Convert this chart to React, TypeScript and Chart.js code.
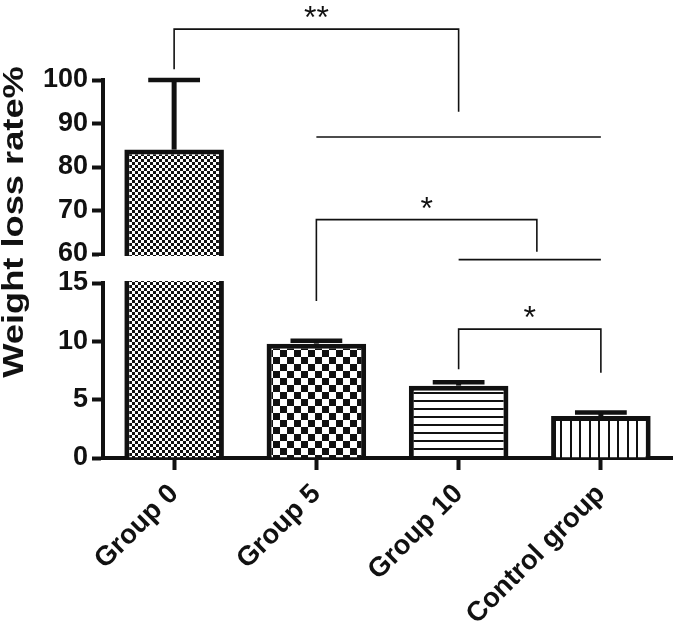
import { useEffect, useRef } from "react";
import { Chart, registerables, LinearScale } from "chart.js";

Chart.register(...registerables);

// ---- data ----
const categories = ["Group 0", "Group 5", "Group 10", "Control group"];
const means = [84, 9.8, 6.2, 3.6];
const sems = [16, 0.25, 0.3, 0.3];
const lowSegment = [0, 15];
const highSegment = [60, 100];
const yTicks = [0, 5, 10, 15, 60, 70, 80, 90, 100];
const yTitle = "Weight loss rate%";

// significance brackets (category index / value units)
const bracketFrom = [0, 1, 1, 2, 2];
const bracketTo = [2, 3, 2.55, 3, 3];
const bracketLevel = [111.7, 86.9, 67.9, 51.2, 11.05];
const bracketLeftEnd: (number | null)[] = [102.5, null, 13.45, null, 7.6];
const bracketRightEnd: (number | null)[] = [92.7, null, 60.5, null, 7.3];
const bracketLabel = ["**", "", "*", "", "*"];

// ---- style ----
const INK = "#111";
const LOW_FRAC = 175 / 378;
const GAP_FRAC = 29 / 378;
const HIGH_FRAC = 174 / 378;
const SANS = "'Liberation Sans', Arial, sans-serif";

class BrokenLinearScale extends LinearScale {
  static id = "brokenLinear";
  static defaults = LinearScale.defaults;
  getPixelForValue(value: any) {
    if (value === null || value === undefined || isNaN(value)) return NaN;
    const [l0, l1] = lowSegment;
    const [h0, h1] = highSegment;
    let d: number;
    if (value <= l1) d = ((value - l0) / (l1 - l0)) * LOW_FRAC;
    else if (value >= h0) d = LOW_FRAC + GAP_FRAC + ((value - h0) / (h1 - h0)) * HIGH_FRAC;
    else d = LOW_FRAC + ((value - l1) / (h0 - l1)) * GAP_FRAC;
    return (this as any).getPixelForDecimal(d);
  }
  getValueForPixel(pixel: number) {
    const d = (this as any).getDecimalForPixel(pixel);
    const [l0, l1] = lowSegment;
    const [h0, h1] = highSegment;
    if (d <= LOW_FRAC) return l0 + (d / LOW_FRAC) * (l1 - l0);
    if (d >= LOW_FRAC + GAP_FRAC) return h0 + ((d - LOW_FRAC - GAP_FRAC) / HIGH_FRAC) * (h1 - h0);
    return l1 + ((d - LOW_FRAC) / GAP_FRAC) * (h0 - l1);
  }
}
Chart.register(BrokenLinearScale as any);

function makePattern(kind: string): CanvasPattern | string {
  const c = document.createElement("canvas");
  const ctx = c.getContext("2d");
  if (!ctx) return "#888";
  let s = 6;
  if (kind === "coarse") s = 14;
  if (kind === "hlines") s = 8;
  if (kind === "vlines") s = 19;
  c.width = s;
  c.height = s;
  ctx.fillStyle = "#fff";
  ctx.fillRect(0, 0, s, s);
  ctx.fillStyle = INK;
  if (kind === "fine") {
    ctx.fillRect(0, 0, 3, 3);
    ctx.fillRect(3, 3, 3, 3);
  } else if (kind === "coarse") {
    ctx.fillRect(0, 0, 7, 7);
    ctx.fillRect(7, 7, 7, 7);
  } else if (kind === "hlines") {
    ctx.fillRect(0, 0, s, 2);
  } else if (kind === "vlines") {
    ctx.fillRect(0, 0, 2, s);
    ctx.fillRect(9, 0, 2, s);
  }
  return ctx.createPattern(c, "repeat") || "#888";
}

const overlayPlugin = {
  id: "brokenOverlay",
  afterDatasetsDraw(chart: any) {
    const { ctx, chartArea } = chart;
    const xs = chart.scales.x;
    const ys = chart.scales.y;
    ctx.save();
    // axis break gap
    const yHigh = ys.getPixelForValue(highSegment[0]);
    const yLow = ys.getPixelForValue(lowSegment[1]);
    ctx.fillStyle = "#fff";
    ctx.fillRect(chartArea.left - 4, yHigh + 2, chartArea.right - chartArea.left + 4, yLow - yHigh - 4);

    // error bars
    const meta = chart.getDatasetMeta(0);
    ctx.strokeStyle = INK;
    meta.data.forEach((bar: any, i: number) => {
      const top = ys.getPixelForValue(means[i]);
      const errTop = ys.getPixelForValue(means[i] + sems[i]);
      const half = bar.width * 0.26;
      ctx.lineWidth = 5;
      ctx.lineCap = "butt";
      ctx.beginPath();
      ctx.moveTo(bar.x, top);
      ctx.lineTo(bar.x, errTop);
      ctx.stroke();
      ctx.lineWidth = 4.5;
      ctx.beginPath();
      ctx.moveTo(bar.x - half, errTop);
      ctx.lineTo(bar.x + half, errTop);
      ctx.stroke();
    });

    // significance brackets
    ctx.lineWidth = 1.6;
    ctx.lineCap = "butt";
    ctx.fillStyle = INK;
    ctx.font = `32px ${SANS}`;
    ctx.textAlign = "center";
    ctx.textBaseline = "alphabetic";
    for (let i = 0; i < bracketLevel.length; i++) {
      const x1 = xs.getPixelForValue(bracketFrom[i]);
      const x2 = xs.getPixelForValue(bracketTo[i]);
      const y = ys.getPixelForValue(bracketLevel[i]);
      ctx.beginPath();
      const le = bracketLeftEnd[i];
      const re = bracketRightEnd[i];
      if (le !== null) {
        ctx.moveTo(x1, ys.getPixelForValue(le));
        ctx.lineTo(x1, y);
      } else {
        ctx.moveTo(x1, y);
      }
      ctx.lineTo(x2, y);
      if (re !== null) ctx.lineTo(x2, ys.getPixelForValue(re));
      ctx.stroke();
      if (bracketLabel[i]) ctx.fillText(bracketLabel[i], (x1 + x2) / 2, y - 1);
    }
    ctx.restore();
  },
  afterDraw(chart: any) {
    const { ctx, chartArea } = chart;
    ctx.save();
    ctx.fillStyle = INK;
    ctx.font = `bold 29px ${SANS}`;
    ctx.textAlign = "center";
    ctx.textBaseline = "middle";
    ctx.translate(15, chartArea.top + 142);
    ctx.rotate(-Math.PI / 2);
    ctx.scale(1.25, 1);
    ctx.fillText(yTitle, 0, 0);
    ctx.restore();
  },
};

export default function App() {
  const ref = useRef<HTMLCanvasElement>(null);
  useEffect(() => {
    if (!ref.current) return;
    const patterns = [makePattern("fine"), makePattern("coarse"), makePattern("hlines"), makePattern("vlines")];
    const chart = new Chart(ref.current, {
      type: "bar",
      data: {
        labels: categories,
        datasets: [
          {
            data: means,
            backgroundColor: patterns as any,
            borderColor: INK,
            borderWidth: 5,
            borderSkipped: "start",
            barPercentage: 0.7,
            categoryPercentage: 1,
          },
        ],
      },
      options: {
        responsive: false,
        animation: false,
        devicePixelRatio: 1,
        layout: { padding: { top: 80, right: 3, bottom: 0, left: 0 } },
        plugins: { legend: { display: false }, tooltip: { enabled: false } },
        scales: {
          x: {
            type: "category",
            offset: true,
            grid: { offset: false, drawOnChartArea: false, drawTicks: true, tickLength: 12, tickWidth: 4, tickColor: INK },
            border: { display: true, width: 4, color: INK },
            ticks: {
              autoSkip: false,
              minRotation: 45,
              maxRotation: 45,
              padding: 8,
              color: INK,
              font: { family: SANS, size: 27.5, weight: "bold" },
            },
            afterFit: (s: any) => {
              s.height = 174;
            },
          },
          y: {
            type: "brokenLinear" as any,
            min: 0,
            max: 100,
            grid: { drawOnChartArea: false, drawTicks: true, tickLength: 11, tickWidth: 4, tickColor: INK },
            border: { display: true, width: 4, color: INK },
            ticks: {
              padding: 4,
              color: INK,
              font: { family: SANS, size: 27, weight: "bold" },
              callback: (v: any) => String(v),
            },
            afterBuildTicks: (s: any) => {
              s.ticks = yTicks.map((value) => ({ value }));
            },
            afterFit: (s: any) => {
              s.width = 103;
            },
          },
        },
      },
      plugins: [overlayPlugin],
    } as any);
    return () => chart.destroy();
  }, []);
  return (
    <div style={{ position: "fixed", left: 0, top: 0, width: 675, height: 632, background: "#fff" }}>
      <canvas ref={ref} width={675} height={632} style={{ display: "block", width: 675, height: 632 }} />
    </div>
  );
}
